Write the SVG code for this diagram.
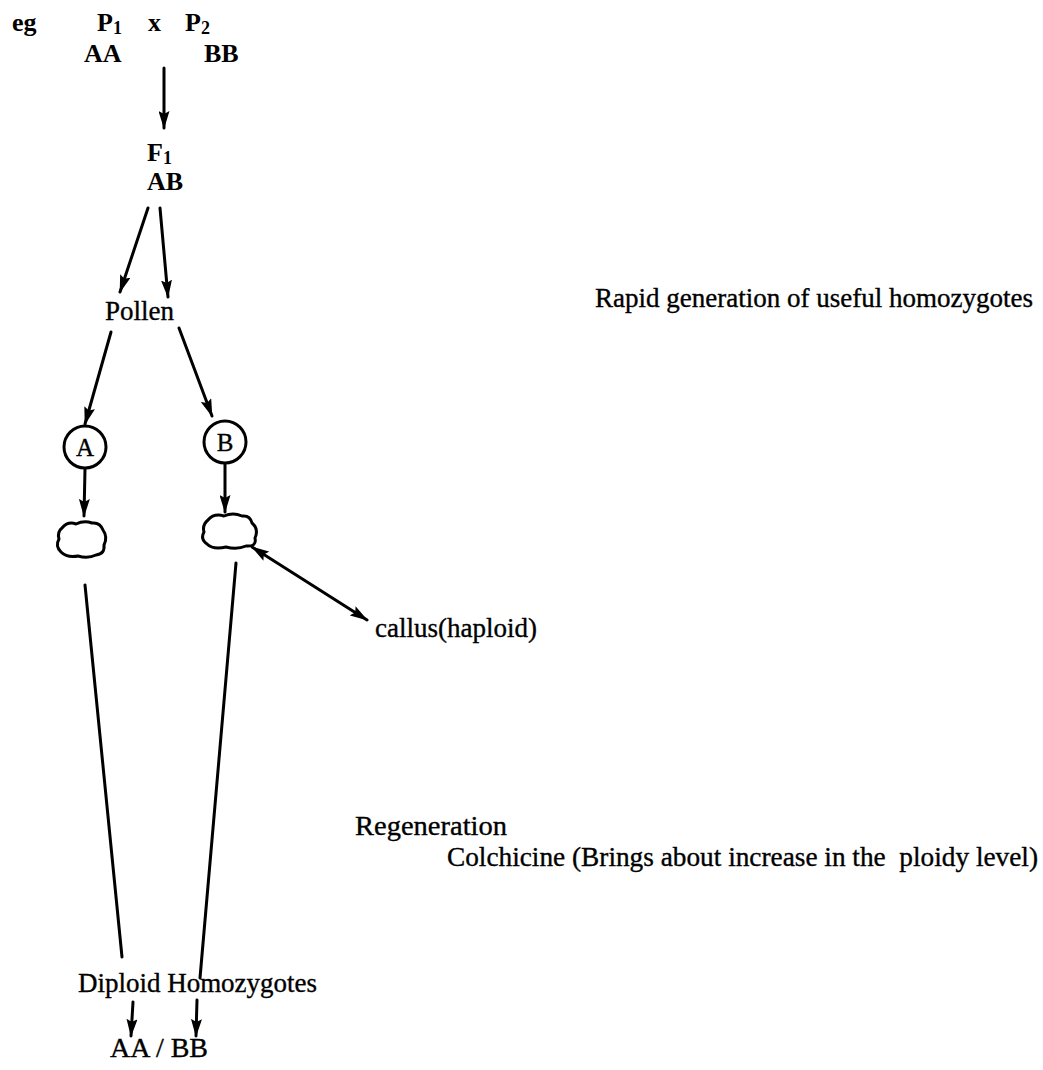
<svg xmlns="http://www.w3.org/2000/svg" width="1043" height="1070" viewBox="0 0 1043 1070">
<style>
text { font-family: "Liberation Serif", "Times New Roman", serif; fill: #000; font-size: 27px; stroke: #000; stroke-width: 0.35; white-space: pre; }
.b { font-weight: bold; font-size: 26px; stroke-width: 0; }
.sub { font-size: 18px; }
.lbl { font-size: 25px; text-anchor: middle; }
.ln { stroke: #000; stroke-width: 3; fill: none; stroke-linecap: round; }
.shape { stroke: #000; stroke-width: 3; fill: #fff; stroke-linejoin: round; }
</style>
<defs>
<marker id="ah" viewBox="0 0 18 11" refX="17" refY="5.5" markerWidth="18" markerHeight="11" markerUnits="userSpaceOnUse" orient="auto">
<path d="M0,0 L18,5.5 L0,11 L3,5.5 z" fill="#000"/>
</marker>
<marker id="ahs" viewBox="0 0 18 11" refX="1" refY="5.5" markerWidth="18" markerHeight="11" markerUnits="userSpaceOnUse" orient="auto">
<path d="M18,0 L0,5.5 L18,11 L15,5.5 z" fill="#000"/>
</marker>
</defs>
<rect width="1043" height="1070" fill="#fff"/>

<g id="connectors">
<line class="ln" x1="164" y1="68" x2="164" y2="128" marker-end="url(#ah)"/>
<line class="ln" x1="148" y1="208" x2="120" y2="292" marker-end="url(#ah)"/>
<line class="ln" x1="160" y1="208" x2="168" y2="297" marker-end="url(#ah)"/>
<line class="ln" x1="111" y1="332" x2="85" y2="424" marker-end="url(#ah)"/>
<line class="ln" x1="179" y1="328" x2="212" y2="416" marker-end="url(#ah)"/>
<line class="ln" x1="85" y1="469" x2="84" y2="516" marker-end="url(#ah)"/>
<line class="ln" x1="225" y1="464" x2="225" y2="512" marker-end="url(#ah)"/>
<line class="ln" x1="85" y1="585" x2="122" y2="957"/>
<line class="ln" x1="236" y1="563" x2="200" y2="978"/>
<line class="ln" x1="252" y1="547" x2="367" y2="620" marker-start="url(#ahs)" marker-end="url(#ah)"/>
<line class="ln" x1="133" y1="1002" x2="131" y2="1036" marker-end="url(#ah)"/>
<line class="ln" x1="197" y1="1000" x2="196" y2="1036" marker-end="url(#ah)"/>
</g>

<g id="eg"><text class="b" x="12" y="31">eg</text></g>
<g id="p1"><text class="b" x="97" y="31">P<tspan class="sub" dy="3">1</tspan></text><text class="b" x="84" y="62">AA</text></g>
<g id="cross"><text class="b" x="148" y="31">x</text></g>
<g id="p2"><text class="b" x="185" y="31">P<tspan class="sub" dy="3">2</tspan></text><text class="b" x="204" y="62">BB</text></g>
<g id="f1"><text class="b" x="147" y="161">F<tspan class="sub" dy="3">1</tspan></text><text class="b" x="147" y="190">AB</text></g>
<g id="pollen"><text x="105" y="320">Pollen</text></g>
<g id="node-a"><circle class="shape" cx="85" cy="447" r="21"/><text class="lbl" x="85" y="456">A</text></g>
<g id="node-b"><circle class="shape" cx="225" cy="442" r="21"/><text class="lbl" x="225" y="451">B</text></g>
<g id="callus-a"><path class="shape" d="M62,528 Q68,521 76,524 Q84,520 92,523 Q100,522 103,530 Q108,537 104,545 Q105,554 96,555 Q88,559 78,556 Q67,558 61,552 Q55,546 59,539 Q57,532 62,528 Z"/></g>
<g id="callus-b"><path class="shape" d="M208,520 Q214,513 224,516 Q233,512 242,516 Q250,515 252,523 Q259,529 255,538 Q257,547 246,546 Q237,550 226,547 Q213,550 207,544 Q200,539 204,532 Q202,525 208,520 Z"/></g>
<g id="callus-label"><text x="375" y="637" textLength="162" lengthAdjust="spacingAndGlyphs">callus(haploid)</text></g>
<g id="title"><text x="595" y="307" textLength="438" lengthAdjust="spacingAndGlyphs">Rapid generation of useful homozygotes</text></g>
<g id="regeneration"><text x="355" y="835" textLength="152" lengthAdjust="spacingAndGlyphs">Regeneration</text></g>
<g id="colchicine"><text x="447" y="866" textLength="591" lengthAdjust="spacingAndGlyphs">Colchicine (Brings about increase in the  ploidy level)</text></g>
<g id="diploid"><text x="78" y="992" textLength="239" lengthAdjust="spacingAndGlyphs">Diploid Homozygotes</text></g>
<g id="result"><text x="110" y="1057" textLength="98" lengthAdjust="spacingAndGlyphs">AA / BB</text></g>
</svg>
